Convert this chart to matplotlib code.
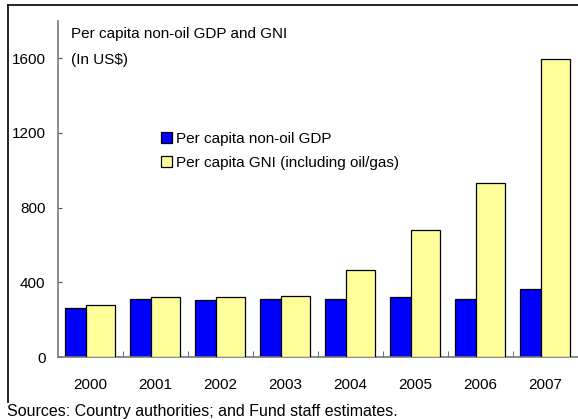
import numpy as np
import matplotlib.pyplot as plt
from matplotlib.lines import Line2D

plt.rcParams['font.family'] = ['Liberation Sans', 'DejaVu Sans']

# Data
years = ["2000", "2001", "2002", "2003", "2004", "2005", "2006", "2007"]
gdp_nonoil = [264, 310, 303, 310, 310, 322, 310, 362]
gni = [276, 321, 321, 328, 465, 683, 930, 1597]
yticks = [0, 400, 800, 1200, 1600]

W, H = 578, 419
fig = plt.figure(figsize=(W / 100, H / 100), dpi=100)
ax = fig.add_axes([58 / W, 1 - 357 / H, 520 / W, 336 / H])

x = np.arange(len(years))
bw = 0.446
ax.bar(x - 0.392, gdp_nonoil, width=bw, align='edge', color='#0000FF',
       edgecolor='black', linewidth=0.9, label='Per capita non-oil GDP', zorder=2)
ax.bar(x - 0.069, gni, width=bw, align='edge', color='#FFFF99',
       edgecolor='black', linewidth=0.9, label='Per capita GNI (including oil/gas)', zorder=3)

ax.set_xlim(-0.5, len(years) - 0.5)
ax.set_ylim(0, 1800)
ax.set_yticks(yticks)
ax.set_yticklabels([str(v) for v in yticks], fontsize=11)
ax.set_xticks(x)
ax.set_xticklabels(years, fontsize=11)
ax.set_xticks(x[:-1] + 0.5, minor=True)
ax.tick_params(axis='x', which='major', length=0, pad=15)
ax.tick_params(axis='x', which='minor', direction='in', length=4, color='#555555')
ax.tick_params(axis='y', direction='in', length=3, color='#555555', pad=9)

for s in ['top', 'right']:
    ax.spines[s].set_visible(False)
for s in ['left', 'bottom']:
    ax.spines[s].set_color('#777777')
    ax.spines[s].set_linewidth(1.2)

leg = ax.legend(loc='upper left', bbox_to_anchor=(161 / W, 1 - 132 / H),
                bbox_transform=fig.transFigure, frameon=False, fontsize=11,
                handlelength=0.7, handleheight=0.7, handletextpad=0.3,
                labelspacing=0.65, borderaxespad=0, borderpad=0)

fig.text(71 / W, 1 - 34 / H, "Per capita non-oil GDP and GNI", fontsize=11, va='center')
fig.text(71 / W, 1 - 60 / H, "(In US$)", fontsize=11, va='center')
fig.text(7 / W, 1 - 411 / H, "Sources: Country authorities; and Fund staff estimates.",
         fontsize=11.5, va='center')

# frame around the chart (left and top edges visible)
fig.add_artist(Line2D([8 / W, 8 / W], [1 - 5 / H, 1 - 402 / H], color='black', lw=1.2,
                      transform=fig.transFigure))
fig.add_artist(Line2D([8 / W, 1], [1 - 5 / H, 1 - 5 / H], color='black', lw=1.2,
                      transform=fig.transFigure))

fig.savefig("out.png", dpi=100)
